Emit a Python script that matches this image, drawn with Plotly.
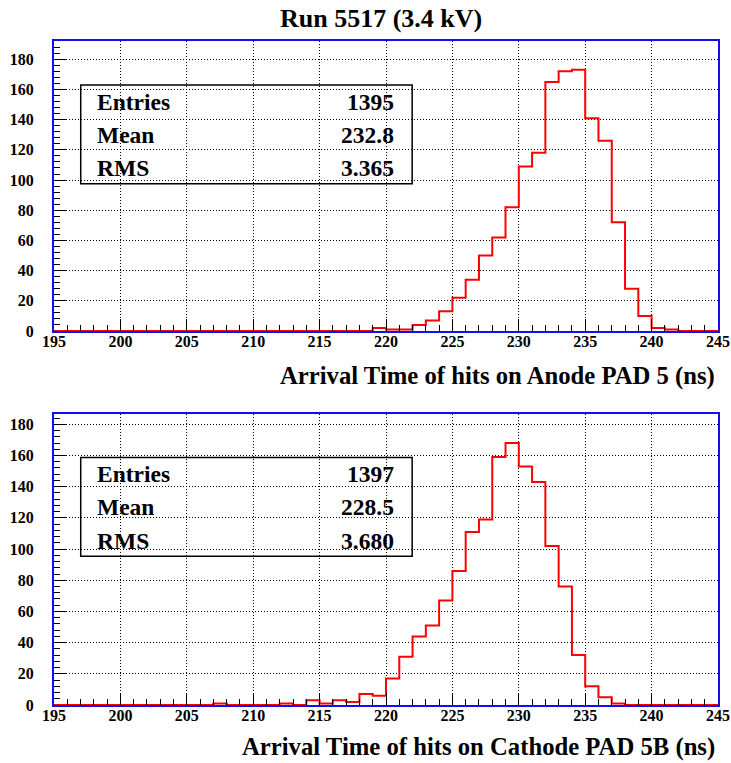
import plotly.graph_objects as go
from plotly.subplots import make_subplots

# ---------------- data ----------------
x_min, x_max = 195, 245
bin_width = 1

anode_first_bin = 219
anode_counts = [2, 1, 1, 4, 7, 13, 22, 34, 50, 62, 82, 109, 118, 165, 172, 173,
                141, 126, 72, 28, 10, 2, 1]

cathode_first_bin = 207
cathode_counts = [1, 0, 0, 0, 0, 1, 0, 3, 1, 3, 2, 7, 6, 17, 31, 44, 51, 67, 86,
                  111, 119, 159, 168, 153, 143, 102, 76, 32, 12, 5, 1]

stats_labels = ["Entries", "Mean", "RMS"]
anode_stats = ["1395", "232.8", "3.365"]
cathode_stats = ["1397", "228.5", "3.680"]

title_text = "Run 5517 (3.4 kV)"
anode_xtitle = "Arrival Time of hits on Anode PAD 5 (ns)"
cathode_xtitle = "Arrival Time of hits on Cathode PAD 5B (ns)"

x_ticks = list(range(195, 246, 5))
y_ticks = list(range(0, 181, 20))


def full_hist(first_bin, counts):
    edges = list(range(x_min, x_max + 1, bin_width))
    vals = [0] * (len(edges) - 1)
    for i, c in enumerate(counts):
        vals[first_bin - x_min + i] = c
    # step line (hv): one point per left edge + final right edge
    return edges, vals + [vals[-1]]


# ---------------- layout helpers (pixel -> paper) ----------------
W, H = 731, 763
PL, PR, PT, PB = 54, 717.7, 41, 705


def px(x):
    return (x - PL) / (PR - PL)


def py(y):
    return (PB - y) / (PB - PT)


top_dom = [py(331), 1.0]
bot_dom = [0.0, py(414)]

fig = make_subplots(rows=2, cols=1)

FONT = "Liberation Serif"
BLUE = "#1010ee"

for row, (fb, cnts) in enumerate([(anode_first_bin, anode_counts),
                                  (cathode_first_bin, cathode_counts)], start=1):
    xs, ys = full_hist(fb, cnts)
    fig.add_trace(go.Scatter(x=xs, y=ys, mode="lines", line_shape="hv",
                             line=dict(color="#ff0000", width=2),
                             showlegend=False, hoverinfo="skip"),
                  row=row, col=1)

axis_common = dict(showline=True, mirror=True, linecolor=BLUE, linewidth=2,
                   ticks="inside", tickcolor="black", tickwidth=1,
                   showgrid=True, gridcolor="black", gridwidth=1, griddash="1px,2px",
                   zeroline=False, automargin=False,
                   tickfont=dict(family=FONT, size=16, color="black", weight="bold"))

xaxis_kw = dict(axis_common, range=[x_min, x_max], tickvals=x_ticks, ticklen=12,
                ticklabelstandoff=-5,
                minor=dict(dtick=1, tick0=195, ticks="inside", ticklen=6,
                           tickcolor="black", showgrid=False))
fig.update_xaxes(**xaxis_kw)

fig.update_yaxes(axis_common, tickvals=y_ticks, ticklen=12, ticklabelstandoff=15,
                 minor=dict(dtick=4, tick0=0, ticks="inside", ticklen=6,
                            tickcolor="black", showgrid=False))
fig.update_yaxes(range=[0, 192.1], domain=top_dom, row=1, col=1)
fig.update_yaxes(range=[0, 186.6], domain=bot_dom, row=2, col=1)

annotations = []
shapes = []

annotations.append(dict(text="<b>%s</b>" % title_text, x=px(381), y=py(18),
                        xref="paper", yref="paper", xanchor="center", yanchor="middle",
                        showarrow=False, font=dict(family=FONT, size=26, color="black")))

for xt, yc in [(anode_xtitle, 376), (cathode_xtitle, 747)]:
    annotations.append(dict(text="<b>%s</b>" % xt, x=px(717), y=py(yc),
                            xref="paper", yref="paper", xanchor="right",
                            yanchor="middle", showarrow=False,
                            font=dict(family=FONT, size=24.7, color="black")))

for stats, box_top in [(anode_stats, 85), (cathode_stats, 457.5)]:
    shapes.append(dict(type="rect", xref="paper", yref="paper",
                       x0=px(80.7), x1=px(412), y0=py(box_top), y1=py(box_top + 98.7),
                       line=dict(color="black", width=1.5), fillcolor="rgba(0,0,0,0)"))
    for i, (lab, val) in enumerate(zip(stats_labels, stats)):
        yc = box_top + 16.7 + i * 33.2
        annotations.append(dict(text="<b>%s</b>" % lab, x=px(95), y=py(yc),
                                xref="paper", yref="paper", xanchor="left",
                                yanchor="middle", showarrow=False,
                                font=dict(family=FONT, size=23.5, color="black")))
        annotations.append(dict(text="<b>%s</b>" % val, x=px(396), y=py(yc),
                                xref="paper", yref="paper", xanchor="right",
                                yanchor="middle", showarrow=False,
                                font=dict(family=FONT, size=23.5, color="black")))

fig.update_layout(width=W, height=H, autosize=False,
                  margin=dict(l=PL, r=W - PR, t=PT, b=H - PB),
                  paper_bgcolor="white", plot_bgcolor="white",
                  annotations=annotations, shapes=shapes, showlegend=False)
fig.update_xaxes(domain=[0, 1])

fig.write_html("out.html")
